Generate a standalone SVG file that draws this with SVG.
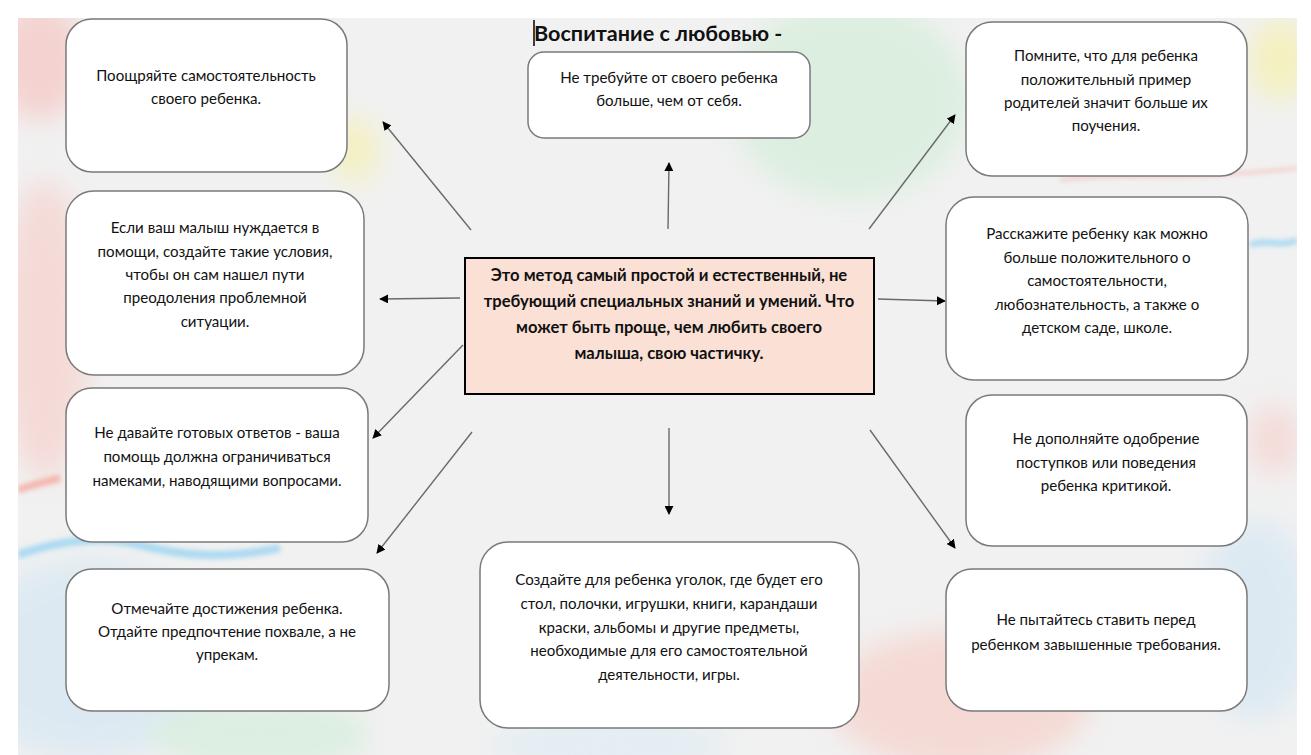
<svg xmlns="http://www.w3.org/2000/svg" width="1311" height="755" viewBox="0 0 1311 755">
<defs>
<style>
.box{fill:#ffffff;stroke:#7a7a7a;stroke-width:1.5}
.t{font-family:Lato,"Liberation Sans",sans-serif;font-size:15.1px;fill:#111;text-anchor:middle}
.tb{font-family:Lato,"Liberation Sans",sans-serif;font-size:16.6px;font-weight:bold;fill:#111;text-anchor:middle}
.c{stroke:#6a6a6a;stroke-width:1.4;fill:none;marker-end:url(#ah)}
</style>
<marker id="ah" viewBox="0 0 10 10" refX="9" refY="5" markerWidth="9" markerHeight="9" markerUnits="userSpaceOnUse" orient="auto">
<path d="M0,0 L10,5 L0,10 z" fill="#000"/>
</marker>
<filter id="bl" x="-50%" y="-50%" width="200%" height="200%"><feGaussianBlur stdDeviation="14"/></filter>
<filter id="bl2" x="-50%" y="-50%" width="200%" height="200%"><feGaussianBlur stdDeviation="2.5"/></filter>
<clipPath id="pg"><rect x="18" y="18" width="1279" height="737"/></clipPath>
</defs>
<rect x="0" y="0" width="1311" height="755" fill="#ffffff"/>
<g id="background" clip-path="url(#pg)">
<rect x="18" y="18" width="1279" height="737" fill="#f1f1f1"/>
<g filter="url(#bl)" opacity="0.5">
<ellipse cx="40" cy="60" rx="45" ry="60" fill="#f6b4ae"/>
<ellipse cx="45" cy="330" rx="45" ry="150" fill="#f8c4bd"/>
<ellipse cx="355" cy="150" rx="22" ry="32" fill="#f7f08a"/>
<ellipse cx="850" cy="100" rx="120" ry="100" fill="#c8eccf"/>
<ellipse cx="1280" cy="60" rx="30" ry="40" fill="#f7f08a"/>
<ellipse cx="90" cy="660" rx="130" ry="100" fill="#c9e3f3"/>
<ellipse cx="260" cy="735" rx="110" ry="35" fill="#c6ecd0"/>
<ellipse cx="960" cy="700" rx="130" ry="70" fill="#f8c3ba"/>
<ellipse cx="1255" cy="620" rx="60" ry="100" fill="#c9e3f3"/>
<ellipse cx="1275" cy="440" rx="25" ry="35" fill="#f8c4bd"/>
<ellipse cx="610" cy="745" rx="120" ry="25" fill="#d4e9f5"/>
</g>
<g filter="url(#bl2)" opacity="0.8">
<path d="M18,555 C60,540 100,535 140,545 C180,555 220,560 280,548" stroke="#98d3f2" stroke-width="8" fill="none"/>
<path d="M1250,245 C1265,238 1280,248 1297,240" stroke="#98d3f2" stroke-width="6" fill="none"/>
<path d="M1060,180 C1120,172 1180,182 1297,168" stroke="#f4b1a8" stroke-width="2.5" fill="none"/>
<path d="M18,490 C30,485 45,482 60,478" stroke="#f5a59c" stroke-width="7" fill="none"/>
</g>
</g>
<g id="connectors">
<line class="c" x1="471" y1="230" x2="383" y2="122"/>
<line class="c" x1="460" y1="298" x2="380" y2="299"/>
<line class="c" x1="463" y1="345" x2="373" y2="438"/>
<line class="c" x1="472" y1="432" x2="377" y2="553"/>
<line class="c" x1="668" y1="229" x2="669" y2="163"/>
<line class="c" x1="669" y1="428" x2="669" y2="514"/>
<line class="c" x1="869" y1="229" x2="955" y2="115"/>
<line class="c" x1="878" y1="299" x2="945" y2="301"/>
<line class="c" x1="870" y1="430" x2="955" y2="548"/>
</g>
<g id="title">
<line x1="534" y1="20" x2="534" y2="46" stroke="#000" stroke-width="1.5"/>
<text x="534" y="41" font-family="Lato,'Liberation Sans',sans-serif" font-size="21.6" font-weight="bold" fill="#111">Воспитание с любовью -</text>
</g>
<g id="n-center">
<rect x="465" y="258" width="409" height="136" fill="#fae0d5" stroke="#000" stroke-width="2"/>
<text class="tb" x="669" y="281">Это метод самый простой и естественный, не</text>
<text class="tb" x="669" y="307">требующий специальных знаний и умений. Что</text>
<text class="tb" x="669" y="333">может быть проще, чем любить своего</text>
<text class="tb" x="669" y="359">малыша, свою частичку.</text>
</g>
<g id="n-top">
<rect class="box" x="528" y="52" width="282" height="86" rx="16"/>
<text class="t" x="669" y="83">Не требуйте от своего ребенка</text>
<text class="t" x="669" y="106">больше, чем от себя.</text>
</g>
<g id="n-left1">
<rect class="box" x="66" y="19" width="281" height="153" rx="26"/>
<text class="t" x="206" y="81">Поощряйте самостоятельность</text>
<text class="t" x="206" y="104">своего ребенка.</text>
</g>
<g id="n-left2">
<rect class="box" x="66" y="191" width="298" height="184" rx="28"/>
<text class="t" x="215" y="233">Если ваш малыш нуждается в</text>
<text class="t" x="215" y="257">помощи, создайте такие условия,</text>
<text class="t" x="215" y="280">чтобы он сам нашел пути</text>
<text class="t" x="215" y="303">преодоления проблемной</text>
<text class="t" x="215" y="327">ситуации.</text>
</g>
<g id="n-left3">
<rect class="box" x="66" y="388" width="302" height="154" rx="26"/>
<text class="t" x="217" y="438">Не давайте готовых ответов - ваша</text>
<text class="t" x="217" y="462">помощь должна ограничиваться</text>
<text class="t" x="217" y="486">намеками, наводящими вопросами.</text>
</g>
<g id="n-left4">
<rect class="box" x="66" y="569" width="323" height="142" rx="26"/>
<text class="t" x="227" y="614">Отмечайте достижения ребенка.</text>
<text class="t" x="227" y="637">Отдайте предпочтение похвале, а не</text>
<text class="t" x="227" y="660">упрекам.</text>
</g>
<g id="n-bottom">
<rect class="box" x="480" y="542" width="379" height="186" rx="28"/>
<text class="t" x="669" y="585">Создайте для ребенка уголок, где будет его</text>
<text class="t" x="669" y="609">стол, полочки, игрушки, книги, карандаши</text>
<text class="t" x="669" y="633">краски, альбомы и другие предметы,</text>
<text class="t" x="669" y="656">необходимые для его самостоятельной</text>
<text class="t" x="669" y="680">деятельности, игры.</text>
</g>
<g id="n-right1">
<rect class="box" x="966" y="22" width="281" height="154" rx="26"/>
<text class="t" x="1106" y="61">Помните, что для ребенка</text>
<text class="t" x="1106" y="85">положительный пример</text>
<text class="t" x="1106" y="108">родителей значит больше их</text>
<text class="t" x="1106" y="131">поучения.</text>
</g>
<g id="n-right2">
<rect class="box" x="946" y="197" width="302" height="183" rx="28"/>
<text class="t" x="1097" y="239">Расскажите ребенку как можно</text>
<text class="t" x="1097" y="263">больше положительного о</text>
<text class="t" x="1097" y="286">самостоятельности,</text>
<text class="t" x="1097" y="310">любознательность, а также о</text>
<text class="t" x="1097" y="333">детском саде, школе.</text>
</g>
<g id="n-right3">
<rect class="box" x="966" y="395" width="281" height="151" rx="26"/>
<text class="t" x="1106" y="444">Не дополняйте одобрение</text>
<text class="t" x="1106" y="468">поступков или поведения</text>
<text class="t" x="1106" y="491">ребенка критикой.</text>
</g>
<g id="n-right4">
<rect class="box" x="946" y="569" width="301" height="142" rx="26"/>
<text class="t" x="1096" y="625">Не пытайтесь ставить перед</text>
<text class="t" x="1096" y="650">ребенком завышенные требования.</text>
</g>
</svg>
